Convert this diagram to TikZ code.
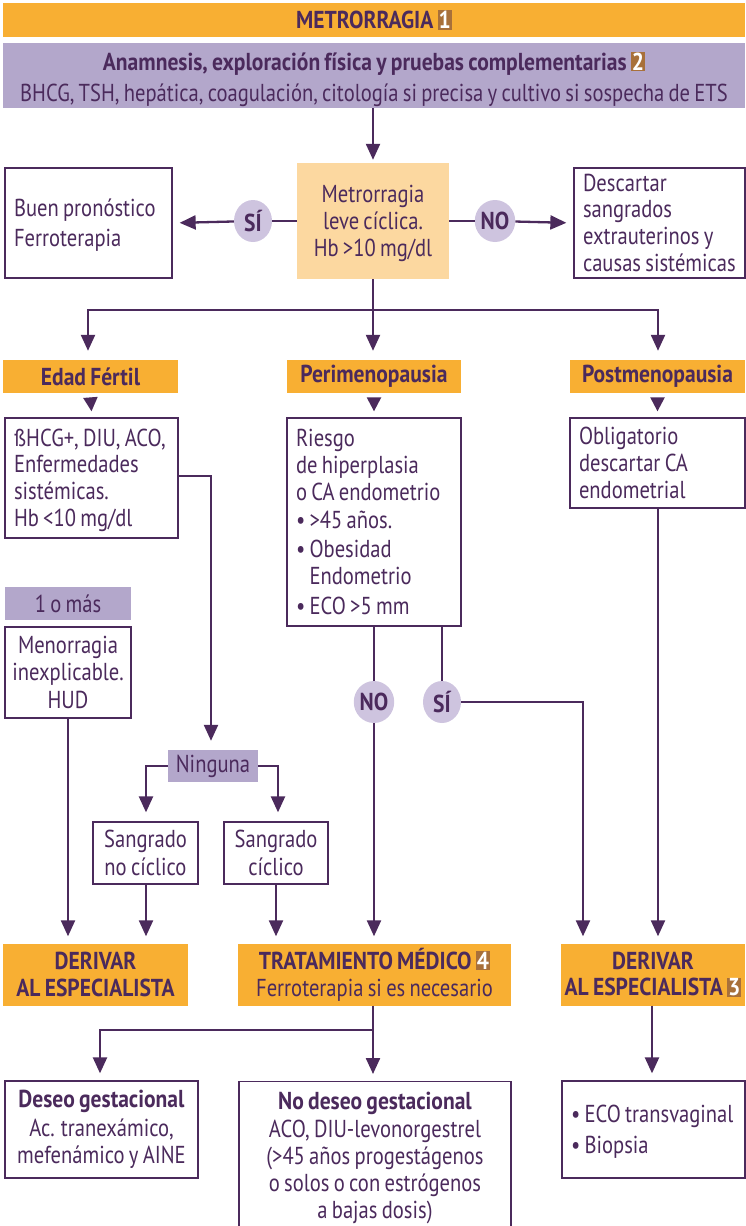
\documentclass[tikz,border=0pt]{standalone}
\usepackage{fontspec}
\setmainfont{PT Sans}[FakeStretch=0.84, WordSpace=0.78, BoldFeatures={FakeStretch=0.88}]
\usetikzlibrary{arrows.meta,shapes.geometric}
\definecolor{ink}{HTML}{4B2A5C}
\definecolor{amber}{HTML}{F8AF33}
\definecolor{peach}{HTML}{FCD8A0}
\definecolor{lilac}{HTML}{B3A7CB}
\definecolor{lilaclight}{HTML}{CEC4DF}
\definecolor{badgebrown}{HTML}{A8703A}
\newcommand{\numbadge}[1]{{\setlength{\fboxsep}{1pt}\colorbox{badgebrown}{\textcolor{white}{\bfseries #1}}}}
\newcommand{\bul}{\textbullet\ }
% a block of flush-left lines set in a box of the given width
\newcommand{\leftlines}[2]{\raisebox{-3pt}[\height][\depth]{\makebox[#1][l]{\begin{tabular}{@{}l@{}}#2\end{tabular}}}}
\begin{document}
\begin{tikzpicture}[x=1pt,y=-1pt,
  txt/.style={text=ink, font=\fontsize{24.5}{26.8}\selectfont},
  panel/.style 2 args={txt, draw=ink, line width=1.3pt, fill=white, inner sep=0pt,
    minimum width=#1, minimum height=#2, align=center},
  band/.style 2 args={txt, fill=amber, inner sep=0pt, minimum width=#1, minimum height=#2,
    align=center, font=\fontsize{24.5}{26.8}\selectfont\bfseries},
  tag/.style 2 args={txt, fill=lilac, inner sep=0pt, minimum width=#1, minimum height=#2, align=center},
  choice/.style={txt, ellipse, fill=lilaclight, minimum width=38pt, minimum height=42pt,
    inner sep=0pt, font=\fontsize{24.5}{26.8}\selectfont\bfseries},
  link/.style={draw=ink, line width=2.3pt},
  arr/.style={link, -{Triangle[length=16pt,width=14pt]}, shorten >=7pt},
  tip/.style={link, -{Triangle[length=14pt,width=14pt]}}
]
\useasboundingbox (0,0) rectangle (745,1226);

% top bands
\node[band={742pt}{34pt}] (metro) at (374,20) {METRORRAGIA \numbadge{1}};
\node[tag={742pt}{65pt}] (anam) at (374,75.5) {};
\node[txt, align=center, inner sep=0pt] (anamtext) at (374,79)
  {\textbf{Anamnesis, exploración física y pruebas complementarias \numbadge{2}}\\[4pt]
   BHCG, TSH, hepática, coagulación, citología si precisa y cultivo si sospecha de ETS};

% first decision
\node[txt, fill=peach, minimum width=152pt, minimum height=116pt, inner sep=0pt, align=center]
  (leve) at (373,221) {\rule{0pt}{22pt}Metrorragia\\leve cíclica.\\Hb >10 mg/dl};
\node[panel={167pt}{110pt}] (buen) at (88.5,223)
  {\leftlines{149pt}{Buen pronóstico\\[3pt]Ferroterapia}};
\node[panel={171pt}{110pt}] (desc) at (659.5,223)
  {\leftlines{153pt}{Descartar\\sangrados\\extrauterinos y\\causas sistémicas}};
\node[choice] (si1) at (253,221) {SÍ};
\node[choice] (no1) at (495,221) {NO};
\draw[link] (leve.west) -- (si1);
\draw[arr] (si1) -- (buen.east);
\draw[link] (leve.east) -- (no1);
\draw[arr] (no1) -- (desc.west);
\draw[arr, shorten >=3pt] (anam.south -| leve.north) -- (leve.north);

% age groups
\node[band={175pt}{33pt}] (edad) at (90.5,376.5) {Edad Fértil};
\node[band={174pt}{33pt}] (peri) at (374,376.5) {Perimenopausia};
\node[band={175pt}{33pt}] (post) at (657.5,376.5) {Postmenopausia};
\coordinate (fork) at (373,310);
\draw[link] (leve.south) -- (fork);
\draw[link] (88,310) -- (658,310);
\draw[arr, shorten >=9pt] (88,309) -- (edad.north -| 88,0);
\draw[arr, shorten >=9pt] (fork) -- (peri.north -| fork);
\draw[arr, shorten >=9pt] (658,309) -- (post.north -| 658,0);

\node[panel={173pt}{120pt}] (bhcg) at (91.5,478)
  {\leftlines{155pt}{ßHCG+, DIU, ACO,\\Enfermedades\\sistémicas.\\Hb <10 mg/dl}};
\node[panel={174pt}{208pt}] (riesgo) at (374,522)
  {\leftlines{156pt}{Riesgo\\de hiperplasia\\o CA endometrio\\[2pt]\bul >45 años.\\[2pt]\bul Obesidad\\\phantom{\bul}Endometrio\\[3pt]\bul ECO >5 mm}};
\node[panel={175pt}{90pt}] (oblig) at (657.5,463)
  {\leftlines{157pt}{Obligatorio\\descartar CA\\endometrial}};
\draw[tip] ([yshift=-5pt]edad.south) -- ([yshift=6pt]bhcg.north);
\draw[tip] ([yshift=-5pt]peri.south) -- ([yshift=6pt]riesgo.north);
\draw[tip] ([yshift=-5pt]post.south) -- ([yshift=6pt]oblig.north);

% fertile-age branch
\node[tag={126pt}{33pt}] (unomas) at (68,603.5) {1 o más};
\node[panel={126pt}{91pt}] (menor) at (68,672.5) {Menorragia\\inexplicable.\\[2pt]HUD};
\node[tag={90pt}{32pt}] (ninguna) at (213,766) {Ninguna};
\node[panel={105pt}{62pt}] (sangnc) at (145.5,853) {Sangrado\\[2pt]no cíclico};
\node[panel={104pt}{62pt}] (sangc) at (276,853) {Sangrado\\[2pt]cíclico};
\coordinate (bend1) at (211,476);
\draw[arr, shorten >=9pt] (bhcg.east |- bend1) -- (bend1) -- (bend1 |- ninguna.north);
\draw[arr, shorten >=9pt] (ninguna.west) -- (146,766) -- (sangnc.north -| 146,0);
\draw[arr, shorten >=9pt] (ninguna.east) -- (278,766) -- (sangc.north -| 278,0);

% referral and treatment
\node[band={185pt}{62pt}] (deriv1) at (95.5,974.5) {DERIVAR\\AL ESPECIALISTA};
\node[band={273pt}{62pt}] (trat) at (374.5,974.5)
  {TRATAMIENTO MÉDICO \numbadge{4}\\\mdseries Ferroterapia si es necesario};
\node[band={184pt}{62pt}] (deriv2) at (653,974.5) {DERIVAR\\AL ESPECIALISTA \numbadge{3}};
\draw[arr] (menor.south) -- (deriv1.north -| menor.south);
\draw[arr] (sangnc.south -| 146,0) -- (deriv1.north -| 146,0);
\draw[arr] (sangc.south -| 276,0) -- (trat.north -| 276,0);

% perimenopause decision
\node[choice] (no2) at (374,702) {NO};
\node[choice] (si2) at (442,702) {SÍ};
\draw[link] (riesgo.south -| no2) -- (no2);
\draw[arr] (no2) -- (trat.north -| no2);
\draw[link] (riesgo.south -| si2) -- (si2);
\coordinate (bend2) at (583,702);
\draw[arr] (si2) -- (bend2) -- (deriv2.north -| bend2);
\draw[arr] (oblig.south -| 658,0) -- (deriv2.north -| 658,0);

% final boxes
\node[panel={193pt}{97pt}] (deseo) at (101.5,1129.5)
  {\textbf{Deseo gestacional}\\[2pt]Ac. tranexámico,\\mefenámico y AINE};
\node[panel={272pt}{152pt}, anchor=north] (nodeseo) at (375,1081)
  {\textbf{No deseo gestacional}\\[2pt]ACO, DIU-levonorgestrel\\(>45 años progestágenos\\o solos o con estrógenos\\a bajas dosis)};
\node[panel={183pt}{97pt}] (eco) at (653.5,1129.5)
  {\leftlines{165pt}{\bul ECO transvaginal\\[4pt]\bul Biopsia}};
\coordinate (fork2) at (373,1030);
\draw[link] (trat.south -| fork2) -- (fork2);
\draw[arr] (fork2) -- (100,1030) -- (deseo.north -| 100,0);
\draw[arr] (fork2) -- (nodeseo.north -| fork2);
\draw[arr] (deriv2.south -| 652,0) -- (eco.north -| 652,0);
\end{tikzpicture}
\end{document}
